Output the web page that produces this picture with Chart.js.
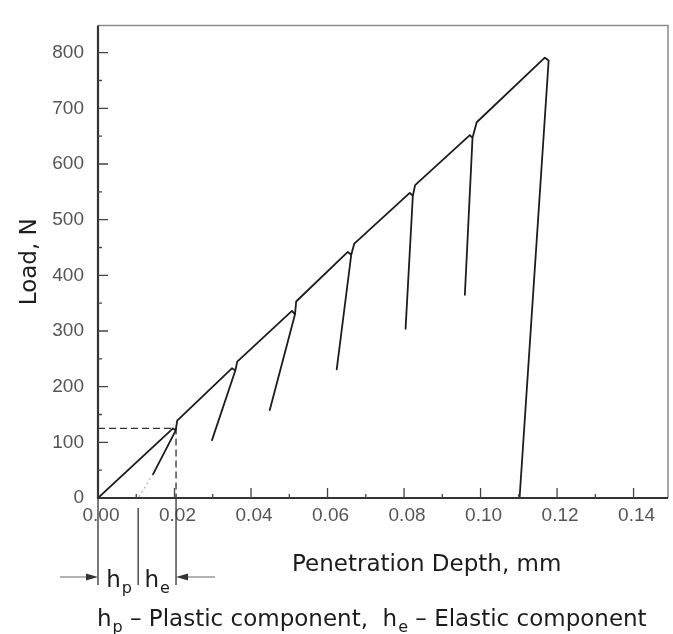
<!DOCTYPE html>
<html>
<head>
<meta charset="utf-8">
<script src="https://cdn.jsdelivr.net/npm/chart.js@4/dist/chart.umd.min.js"></script>
<style>
  html, body { margin: 0; padding: 0; background: #fff; }
  #wrap { width: 673px; height: 634px; }
</style>
</head>
<body>
<div id="wrap"><canvas id="loadChart" width="673" height="634"></canvas></div>
<script>
// Axis ticks
const depthTicks = [0, 0.02, 0.04, 0.06, 0.08, 0.10, 0.12, 0.14];
const loadTicks = [0, 100, 200, 300, 400, 500, 600, 700, 800];

// Load / unload / reload cycles (depth mm, load N)
const curveDepth = [0, 0.0196, 0.0203, 0.0144, 0.0203, 0.0207,
    0.0350, 0.0359, 0.0298, 0.0359, 0.0364,
    0.0507, 0.0515, 0.0449, 0.0515, 0.0518,
    0.0653, 0.0662, 0.0624, 0.0662, 0.0670,
    0.0815, 0.0823, 0.0804, 0.0823, 0.0829,
    0.0972, 0.0979, 0.0959, 0.0979, 0.0990,
    0.1168, 0.1178, 0.1102];
const curveLoad = [0, 125, 121, 43, 121, 139,
    233, 229, 104, 229, 245,
    336, 330, 158, 330, 353,
    442, 437, 231, 437, 457,
    548, 543, 304, 543, 562,
    652, 647, 365, 647, 675,
    791, 786, 0];

// Dotted extrapolation of first unloading
const extrapDepth = [0.0144, 0.0105];
const extrapLoad = [43, 0];

// Dashed guide to first peak
const guideDepth = [0, 0.0204, 0.0204];
const guideLoad = [125, 125, 0];

// h_p / h_e split marks on depth axis
const componentMarks = [0, 0.0105, 0.0204];

const toPoints = (xs, ys) => xs.map((x, i) => ({ x, y: ys[i] }));

const ink = '#1c1c1c';
const titleFont = '23px "DejaVu Sans"';
const subFont = '16px "DejaVu Sans"';

// draw "h" with subscript, returns width
function drawSub(ctx, base, sub, x, y) {
    ctx.font = titleFont;
    ctx.fillText(base, x, y);
    const w1 = ctx.measureText(base).width;
    ctx.font = subFont;
    ctx.fillText(sub, x + w1 + 1, y + 6);
    const w2 = ctx.measureText(sub).width;
    ctx.font = titleFont;
    return w1 + 1 + w2;
}
function subWidth(ctx, base, sub) {
    ctx.font = titleFont;
    const w1 = ctx.measureText(base).width;
    ctx.font = subFont;
    const w2 = ctx.measureText(sub).width;
    ctx.font = titleFont;
    return w1 + 1 + w2;
}

// Frame, inward ticks and all annotation text
const framePlugin = {
    id: 'frame',
    afterDraw(chart) {
        const { ctx, chartArea: { left, right, top, bottom }, scales: { x, y } } = chart;
        ctx.save();
        // frame
        ctx.strokeStyle = '#8a8a8a';
        ctx.lineWidth = 1.5;
        ctx.beginPath();
        ctx.moveTo(left, top); ctx.lineTo(right, top); ctx.lineTo(right, bottom);
        ctx.stroke();
        ctx.strokeStyle = '#333';
        ctx.lineWidth = 2.2;
        ctx.beginPath();
        ctx.moveTo(left, top); ctx.lineTo(left, bottom); ctx.lineTo(right, bottom);
        ctx.stroke();

        // inward ticks
        ctx.lineWidth = 1.3;
        ctx.strokeStyle = '#444';
        ctx.beginPath();
        depthTicks.forEach((v, i) => {
            const px = x.getPixelForValue(v);
            if (i > 0) { ctx.moveTo(px, bottom); ctx.lineTo(px, bottom - 10); }
            if (v + 0.01 < x.max) {
                const mx = x.getPixelForValue(v + 0.01);
                ctx.moveTo(mx, bottom); ctx.lineTo(mx, bottom - 4);
            }
        });
        loadTicks.forEach((v, i) => {
            const py = y.getPixelForValue(v);
            if (i > 0) { ctx.moveTo(left, py); ctx.lineTo(left + 10, py); }
            if (v < 800) {
                const my = y.getPixelForValue(v + 50);
                ctx.moveTo(left, my); ctx.lineTo(left + 4, my);
            }
        });
        ctx.stroke();

        // h_p / h_e marker lines under the axis
        const mk = componentMarks.map(v => x.getPixelForValue(v));
        ctx.strokeStyle = '#333';
        ctx.lineWidth = 1.3;
        ctx.beginPath();
        ctx.moveTo(mk[0], bottom); ctx.lineTo(mk[0], 585);
        ctx.moveTo(mk[1], 508); ctx.lineTo(mk[1], 585);
        ctx.moveTo(mk[2], bottom); ctx.lineTo(mk[2], 585);
        ctx.stroke();

        // arrows
        const ay = 577;
        ctx.strokeStyle = '#666';
        ctx.lineWidth = 1;
        ctx.beginPath();
        ctx.moveTo(60, ay); ctx.lineTo(mk[0] - 8, ay);
        ctx.moveTo(mk[2] + 8, ay); ctx.lineTo(215, ay);
        ctx.stroke();
        ctx.fillStyle = '#333';
        ctx.beginPath();
        ctx.moveTo(mk[0], ay); ctx.lineTo(mk[0] - 12, ay - 3.5); ctx.lineTo(mk[0] - 12, ay + 3.5);
        ctx.closePath();
        ctx.moveTo(mk[2], ay); ctx.lineTo(mk[2] + 12, ay - 3.5); ctx.lineTo(mk[2] + 12, ay + 3.5);
        ctx.closePath();
        ctx.fill();

        // h_p, h_e labels
        ctx.fillStyle = ink;
        ctx.textBaseline = 'alphabetic';
        ctx.textAlign = 'left';
        let w = subWidth(ctx, 'h', 'p');
        drawSub(ctx, 'h', 'p', (mk[0] + mk[1]) / 2 - w / 2 + 1, 587);
        w = subWidth(ctx, 'h', 'e');
        drawSub(ctx, 'h', 'e', (mk[1] + mk[2]) / 2 - w / 2, 587);

        // axis titles
        ctx.font = titleFont;
        ctx.fillText('Penetration Depth, mm', 292, 571);
        ctx.save();
        ctx.translate(36, (top + bottom) / 2);
        ctx.rotate(-Math.PI / 2);
        ctx.textAlign = 'center';
        ctx.fillText('Load, N', 0, 0);
        ctx.restore();

        // caption
        let cx = 97;
        const cy = 626;
        cx += drawSub(ctx, 'h', 'p', cx, cy);
        const part1 = ' \u2013 Plastic component,  ';
        ctx.fillText(part1, cx, cy);
        cx += ctx.measureText(part1).width;
        cx += drawSub(ctx, 'h', 'e', cx, cy);
        ctx.fillText(' \u2013 Elastic component', cx, cy);
        ctx.restore();
    }
};

new Chart(document.getElementById('loadChart'), {
    type: 'scatter',
    data: {
        datasets: [
            {
                data: toPoints(curveDepth, curveLoad),
                showLine: true, borderColor: ink, borderWidth: 1.8,
                pointRadius: 0, tension: 0, borderJoinStyle: 'round'
            },
            {
                data: toPoints(extrapDepth, extrapLoad),
                showLine: true, borderColor: '#aaa', borderWidth: 1.2,
                borderDash: [2, 3], pointRadius: 0
            },
            {
                data: toPoints(guideDepth, guideLoad),
                showLine: true, borderColor: '#333', borderWidth: 1.3,
                borderDash: [7, 4], pointRadius: 0
            }
        ]
    },
    options: {
        responsive: false,
        animation: false,
        devicePixelRatio: 1,
        layout: { padding: { top: 10, right: 5, left: 0, bottom: 0 } },
        plugins: { legend: { display: false }, tooltip: { enabled: false } },
        scales: {
            x: {
                type: 'linear', min: 0, max: 0.149,
                grid: { display: false, drawTicks: false },
                border: { display: false },
                afterBuildTicks: s => { s.ticks = depthTicks.map(v => ({ value: v })); },
                afterFit: s => { s.height = 136; },
                ticks: {
                    padding: 6, labelOffset: 3, maxRotation: 0, autoSkip: false,
                    color: '#555', font: { family: '"Liberation Sans", Arial', size: 19 },
                    callback: v => v.toFixed(2)
                }
            },
            y: {
                type: 'linear', min: 0, max: 849,
                grid: { display: false, drawTicks: false },
                border: { display: false },
                afterBuildTicks: s => { s.ticks = loadTicks.map(v => ({ value: v })); },
                afterFit: s => { s.width = 98; },
                ticks: {
                    padding: 14, autoSkip: false,
                    color: '#555', font: { family: '"Liberation Sans", Arial', size: 19 }
                }
            }
        }
    },
    plugins: [framePlugin]
});
</script>
</body>
</html>
